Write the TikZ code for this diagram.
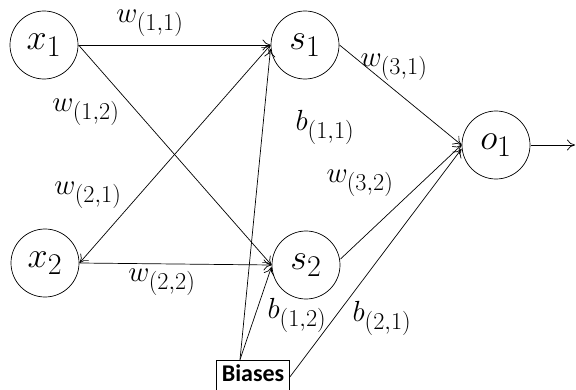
\documentclass[tikz,border=0pt]{standalone}
\usepackage{fontspec}
\newfontfamily\boxfont{Carlito}
\usetikzlibrary{arrows.meta}
\tikzset{
    neuron/.style = {draw, circle, scale=1.45, minimum size=46.9pt, inner sep=0pt, font=\Huge},
    wlabel/.style = {scale=1.17, font=\Huge},
    biasbox/.style = {draw, minimum width=73pt, minimum height=34pt, inner sep=0pt, font=\boxfont\bfseries\fontsize{24}{24}\selectfont}
}
\begin{document}
\begin{tikzpicture}[x=1pt, y=1pt, >={To[length=8pt,width=11pt]}, line width=0.7pt]
            \useasboundingbox (0,0) rectangle (576,389);
            \node[neuron] (x1) at (44,344) {$x_1$};
            \node[neuron] (x2) at (45,126) {$x_2$};
            \node[neuron] (s1) at (305,344) {$s_1$};
            \node[neuron] (s2) at (306,124) {$s_2$};
            \node[neuron] (o1) at (496,244) {$o_1$};
            \node[biasbox, text depth=0pt] (biases) at (253,12) {\raisebox{7pt}{Biases}};
            \coordinate (bsrc) at ([xshift=-13pt]biases.north);
            \coordinate (out) at (575,244);
            % input to hidden
            \draw[->] (x1.east) -- (s1.west);
            \draw[->] (x1.east) -- (s2.west);
            \draw[<->] (x2.east) -- (s1.west);
            \draw[->] (x2.east) -- (s2.west);
            % biases
            \draw[->] (bsrc) -- ([yshift=-4pt]s1.west);
            \draw[->] (bsrc) -- ([yshift=-2pt]s2.west);
            \draw[->] (biases.east) -- ([yshift=-4pt]o1.west);
            % hidden to output
            \draw[->] (s1.east) -- (o1.west);
            \draw[->] ([yshift=6pt]s2.east) -- (o1.west);
            \draw[->] (o1.east) -- (out);
            % labels
            \node[wlabel] (w11) at (150,366) {$w_{(1,1)}$};
            \node[wlabel] (w12) at (86,277) {$w_{(1,2)}$};
            \node[wlabel] (w21) at (88,194) {$w_{(2,1)}$};
            \node[wlabel] (w22) at (162,107) {$w_{(2,2)}$};
            \node[wlabel] (b11) at (325,262) {$b_{(1,1)}$};
            \node[wlabel] (b12) at (297,74) {$b_{(1,2)}$};
            \node[wlabel] (b21) at (382,71) {$b_{(2,1)}$};
            \node[wlabel] (w31) at (394,322) {$w_{(3,1)}$};
            \node[wlabel] (w32) at (360,206) {$w_{(3,2)}$};
        \end{tikzpicture}
\end{document}
